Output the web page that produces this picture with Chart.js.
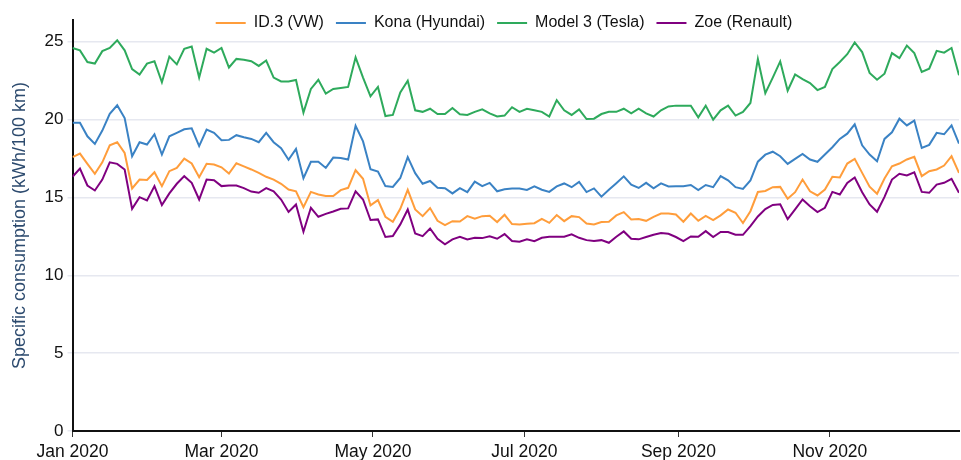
<!DOCTYPE html>
<html>
<head>
<meta charset="utf-8">
<script src="https://cdn.jsdelivr.net/npm/chart.js@4"></script>
<style>
  html, body { margin: 0; padding: 0; background: #fff; }
  #wrap { width: 961px; height: 460px; }
</style>
</head>
<body>
<div id="wrap"><canvas id="consumptionChart" width="961" height="460"></canvas></div>
<script>
// one sample every 3 days, starting 1 Jan 2020
const stepDays = 3;

const id3Values = [
  17.59, 17.82, 17.16, 16.52, 17.26, 18.35, 18.55, 17.86, 15.58, 16.15,
  16.13, 16.62, 15.73, 16.69, 16.9, 17.5, 17.18, 16.3, 17.16, 17.12,
  16.94, 16.54, 17.2, 17.0, 16.8, 16.58, 16.33, 16.15, 15.88, 15.51,
  15.4, 14.38, 15.36, 15.19, 15.09, 15.09, 15.47, 15.62, 16.75, 16.2,
  14.49, 14.83, 13.76, 13.44, 14.27, 15.49, 14.23, 13.8, 14.32, 13.5,
  13.23, 13.48, 13.46, 13.8, 13.63, 13.8, 13.82, 13.42, 13.89, 13.29,
  13.27, 13.31, 13.35, 13.63, 13.37, 13.87, 13.48, 13.8, 13.74, 13.33,
  13.27, 13.42, 13.44, 13.85, 14.06, 13.59, 13.61, 13.5, 13.76, 13.97,
  13.97, 13.91, 13.44, 13.97, 13.5, 13.82, 13.55, 13.85, 14.23, 14.02,
  13.36, 14.12, 15.35, 15.42, 15.66, 15.68, 14.92, 15.34, 16.15, 15.4,
  15.13, 15.51, 16.33, 16.28, 17.18, 17.48, 16.58, 15.69, 15.24, 16.22,
  17.0, 17.18, 17.44, 17.61, 16.37, 16.69, 16.8, 17.05, 17.65, 16.58
];

const konaValues = [
  19.8, 19.8, 18.93, 18.44, 19.3, 20.38, 20.92, 20.1, 17.65, 18.55,
  18.4, 19.06, 17.76, 18.93, 19.15, 19.38, 19.44, 18.3, 19.36, 19.15,
  18.68, 18.7, 19.0, 18.87, 18.76, 18.55, 19.15, 18.55, 18.16, 17.42,
  18.12, 16.24, 17.29, 17.3, 16.9, 17.56, 17.54, 17.44, 19.6, 18.6,
  16.82, 16.67, 15.73, 15.68, 16.25, 17.59, 16.56, 15.88, 16.06, 15.63,
  15.6, 15.26, 15.6, 15.34, 16.02, 15.73, 15.94, 15.4, 15.53, 15.57,
  15.58, 15.48, 15.71, 15.5, 15.36, 15.71, 15.9, 15.66, 16.0, 15.35,
  15.58, 15.05, 15.49, 15.92, 16.36, 15.82, 15.61, 15.94, 15.59, 15.91,
  15.71, 15.72, 15.72, 15.8, 15.47, 15.8, 15.66, 16.37, 16.1, 15.66,
  15.55, 16.1, 17.3, 17.75, 17.94, 17.65, 17.16, 17.48, 17.8, 17.44,
  17.29, 17.76, 18.23, 18.76, 19.1, 19.7, 18.35, 17.76, 17.33, 18.76,
  19.19, 20.06, 19.63, 19.94, 18.18, 18.38, 19.15, 19.06, 19.63, 18.46
];

const model3Values = [
  24.6, 24.45, 23.7, 23.6, 24.4, 24.6, 25.1, 24.45, 23.25, 22.9,
  23.6, 23.75, 22.4, 24.05, 23.55, 24.55, 24.7, 22.7, 24.55, 24.3,
  24.6, 23.35, 23.9, 23.85, 23.75, 23.45, 23.8, 22.7, 22.45, 22.45,
  22.55, 20.45, 21.97, 22.56, 21.67, 21.97, 22.03, 22.1, 24.0, 22.7,
  21.5, 22.1, 20.23, 20.3, 21.75, 22.5, 20.6, 20.5, 20.7, 20.36,
  20.36, 20.75, 20.34, 20.3, 20.5, 20.66, 20.4, 20.2, 20.26, 20.8,
  20.5, 20.7, 20.6, 20.5, 20.2, 21.25, 20.6, 20.3, 20.66, 20.04,
  20.06, 20.36, 20.5, 20.5, 20.7, 20.4, 20.7, 20.4, 20.2, 20.6,
  20.85, 20.9, 20.9, 20.9, 20.15, 20.9, 20.0, 20.6, 20.9, 20.26,
  20.5, 21.07, 23.9, 21.7, 22.7, 23.74, 21.86, 22.9, 22.6, 22.35,
  21.9, 22.1, 23.25, 23.7, 24.2, 24.96, 24.34, 23.0, 22.56, 22.95,
  24.27, 23.95, 24.76, 24.27, 23.06, 23.27, 24.42, 24.3, 24.6, 22.85
];

const zoeValues = [
  16.33, 16.86, 15.77, 15.45, 16.15, 17.26, 17.16, 16.8, 14.27, 15.02,
  14.81, 15.73, 14.51, 15.26, 15.88, 16.37, 15.94, 14.87, 16.15, 16.11,
  15.73, 15.77, 15.77, 15.6, 15.38, 15.3, 15.6, 15.4, 14.87, 14.07,
  14.55, 12.8, 14.34, 13.76, 13.95, 14.1, 14.27, 14.3, 15.4, 14.87,
  13.55, 13.59, 12.46, 12.52, 13.27, 14.23, 12.69, 12.52, 13.01, 12.35,
  11.99, 12.31, 12.48, 12.31, 12.41, 12.39, 12.5, 12.35, 12.65, 12.2,
  12.16, 12.31, 12.19, 12.41, 12.48, 12.48, 12.48, 12.63, 12.41, 12.26,
  12.2, 12.26, 12.09, 12.48, 12.82, 12.35, 12.31, 12.46, 12.61, 12.71,
  12.67, 12.46, 12.2, 12.5, 12.48, 12.84, 12.46, 12.78, 12.78, 12.61,
  12.6, 13.16, 13.78, 14.25, 14.52, 14.56, 13.61, 14.23, 14.87, 14.44,
  14.06, 14.34, 15.36, 15.19, 15.94, 16.28, 15.34, 14.55, 14.08, 15.04,
  16.15, 16.52, 16.41, 16.62, 15.36, 15.3, 15.83, 15.94, 16.2, 15.3
];

const seriesNames = ['ID.3 (VW)', 'Kona (Hyundai)', 'Model 3 (Tesla)', 'Zoe (Renault)'];
const seriesColors = ['#ff9d3b', '#3a82c4', '#2eaa5c', '#800080'];

// month starts in days since 1 Jan 2020
const monthTickDays = [0, 60, 121, 182, 244, 305];
const monthTickLabels = ['Jan 2020', 'Mar 2020', 'May 2020', 'Jul 2020', 'Sep 2020', 'Nov 2020'];

const yTicks = [0, 5, 10, 15, 20, 25];

const fontFamily = '"Liberation Sans", Arial, sans-serif';

function toPoints(values) {
    return values.map((v, i) => ({ x: i * stepDays, y: v }));
}

const allValues = [id3Values, konaValues, model3Values, zoeValues];

const datasets = allValues.map((values, k) => ({
    label: seriesNames[k],
    data: toPoints(values),
    borderColor: seriesColors[k],
    backgroundColor: seriesColors[k],
    borderWidth: 2,
    pointRadius: 0,
    tension: 0,
    fill: false
}));

// legend sits over the top edge of the plot: reserve only a small strip for it
// and draw it without clipping, nudged toward the middle of the plot
const overlapLegend = {
    id: 'overlapLegend',
    beforeInit(chart) {
        const legend = chart.legend;
        const origFit = legend.fit;
        legend.fit = function () {
            origFit.bind(legend)();
            this.height = 20;
        };
        legend.draw = function () {
            if (!this.options.display) return;
            this.ctx.save();
            this.ctx.translate(20, 3);
            this._draw();
            this.ctx.restore();
        };
    }
};

const ctx = document.getElementById('consumptionChart').getContext('2d');
new Chart(ctx, {
    type: 'line',
    data: { datasets: datasets },
    plugins: [overlapLegend],
    options: {
        responsive: false,
        animation: false,
        layout: { padding: { left: 9, right: 2, top: 0, bottom: -8 } },
        plugins: {
            legend: {
                position: 'top',
                labels: {
                    usePointStyle: true,
                    pointStyle: 'line',
                    pointStyleWidth: 30,
                    boxHeight: 16,
                    padding: 12,
                    color: '#111',
                    font: { family: fontFamily, size: 16 }
                }
            },
            tooltip: { enabled: false }
        },
        scales: {
            x: {
                type: 'linear',
                min: 0,
                max: (id3Values.length - 1) * stepDays,
                afterBuildTicks: axis => {
                    axis.ticks = monthTickDays.map(d => ({ value: d }));
                },
                ticks: {
                    autoSkip: false,
                    maxRotation: 0,
                    padding: 5,
                    color: '#111',
                    font: { family: fontFamily, size: 17.5 },
                    callback: (value) => monthTickLabels[monthTickDays.indexOf(value)]
                },
                grid: { display: true, drawOnChartArea: false, drawTicks: true, tickLength: 6, color: '#333' },
                border: { display: true, color: '#111', width: 2 }
            },
            y: {
                min: 0,
                max: 26.4,
                afterBuildTicks: axis => {
                    axis.ticks = yTicks.map(v => ({ value: v }));
                },
                ticks: {
                    padding: 4,
                    color: '#111',
                    font: { family: fontFamily, size: 17 }
                },
                grid: { color: '#e6e8f0', lineWidth: 1.5, tickLength: 5 },
                border: { display: true, color: '#111', width: 2 },
                title: {
                    display: true,
                    text: 'Specific consumption (kWh/100 km)',
                    color: '#2c4a6e',
                    font: { family: fontFamily, size: 18 },
                    padding: { top: 0, bottom: 10 }
                }
            }
        }
    }
});
</script>
</body>
</html>
